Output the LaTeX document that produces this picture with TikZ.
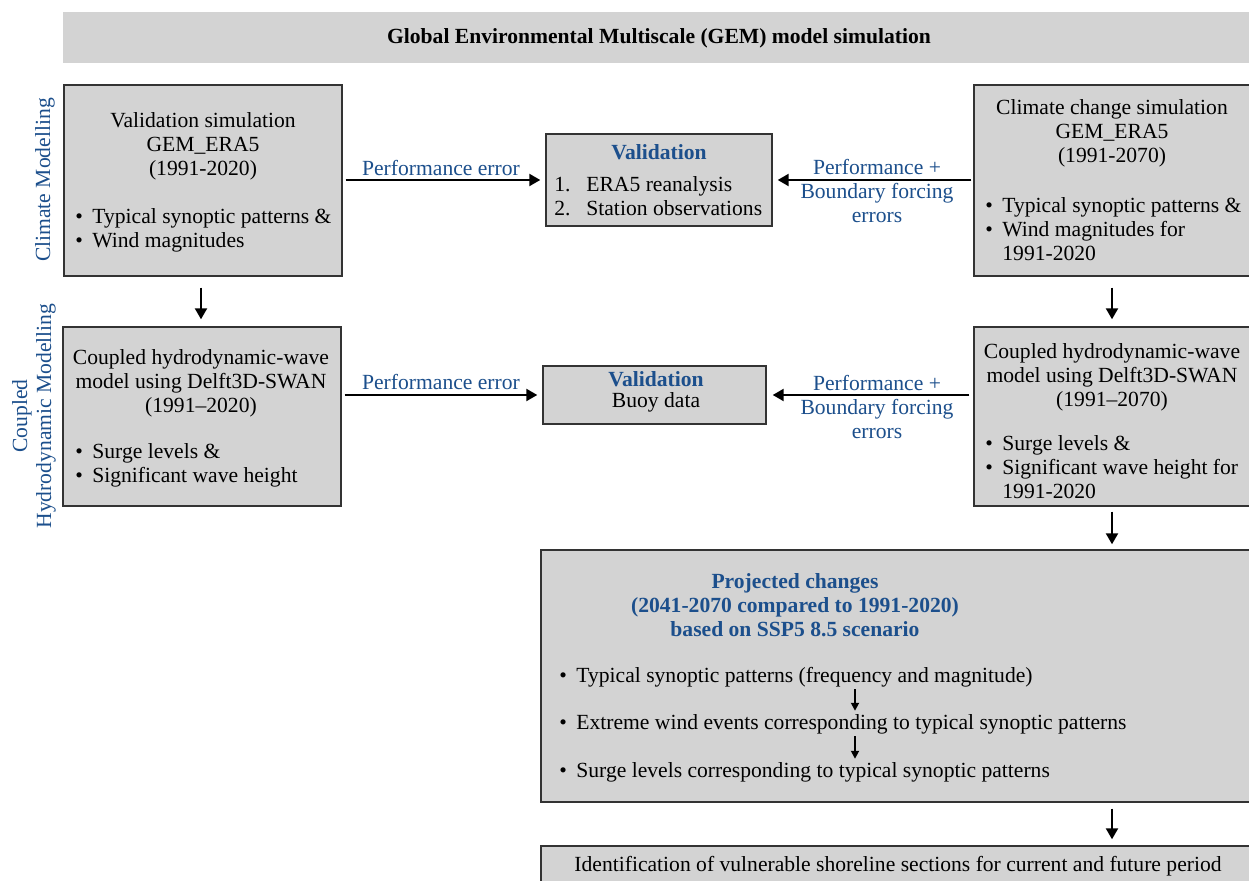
\documentclass[tikz,border=0pt]{standalone}
\usepackage{fontspec}
\setmainfont{Liberation Serif}
\usetikzlibrary{arrows.meta}
\definecolor{boxgray}{RGB}{211,211,211}
\definecolor{lblue}{RGB}{28,79,140}
\newcommand{\bul}{\makebox[8.5pt][l]{\textbullet}}
\newcommand{\numi}[1]{\makebox[16pt][l]{#1}}
\begin{document}
\begin{tikzpicture}[x=0.5pt,y=-0.5pt, font=\fontsize{10.8}{12}\selectfont,
  box/.style={draw=black!80, fill=boxgray, line width=0.7pt, inner sep=0pt},
  banner/.style={fill=boxgray, inner sep=0pt},
  arr/.style={-{Triangle[length=5.5pt,width=6pt]}, line width=1.1pt},
  sarr/.style={-{Triangle[length=4pt,width=4pt]}, line width=0.9pt},
  lbl/.style={text=lblue, align=center, inner sep=0pt},
  txt/.style={align=center, inner sep=0pt},
  ltxt/.style={align=left, inner sep=0pt, anchor=west}]
\clip (0,0) rectangle (1249,881);
\fill[white] (0,0) rectangle (1249,881);
% boxes
\node[banner, minimum width=594.5pt, minimum height=25.5pt] (T) at (657.5,37.5) {};
\node[box, minimum width=139pt, minimum height=95.5pt] (A) at (203,180.5) {};
\node[box, minimum width=113pt, minimum height=46pt] (V1) at (659,180) {};
\node[box, minimum width=139pt, minimum height=95.5pt] (B) at (1113,180.5) {};
\node[box, minimum width=139pt, minimum height=89.5pt] (C) at (202,416.5) {};
\node[box, minimum width=111.5pt, minimum height=29pt] (V2) at (654.5,395) {};
\node[box, minimum width=139pt, minimum height=89.5pt] (D) at (1113,416.5) {};
\node[box, minimum width=355.5pt, minimum height=126pt] (P) at (896.5,676) {};
\node[box, minimum width=355.5pt, minimum height=27pt] (I) at (896.5,873) {};
% title
\node[txt, font=\fontsize{10.8}{12}\selectfont\bfseries] (Tt) at (659,38) {Global Environmental Multiscale (GEM) model simulation};
% side labels
\node[lbl, rotate=90] (cm) at (45,180) {Climate Modelling};
\node[lbl, rotate=90] (chm) at (34,416) {Coupled\\Hydrodynamic Modelling};
% box A
\node[txt] (Ah) at (203,146) {Validation simulation\\GEM\_ERA5\\(1991-2020)};
\node[ltxt] (Ab) at (75,230) {\bul Typical synoptic patterns \&\\\bul Wind magnitudes};
% box V1
\node[txt, text=lblue, font=\fontsize{10.8}{12}\selectfont\bfseries] (V1h) at (659,152) {Validation};
\node[ltxt] (V1b) at (554,196) {\numi{1.}ERA5 reanalysis\\\numi{2.}Station observations};
% box B
\node[txt] (Bh) at (1112,133) {Climate change simulation\\GEM\_ERA5\\(1991-2070)};
\node[ltxt] (Bb) at (985,229) {\bul Typical synoptic patterns \&\\\bul Wind magnitudes for\\\hspace*{8.5pt}1991-2020};
% box C
\node[txt] (Ch) at (201,383) {Coupled hydrodynamic-wave\\model using Delft3D-SWAN\\(1991--2020)};
\node[ltxt] (Cb) at (75,465) {\bul Surge levels \&\\\bul Significant wave height};
% box V2
\node[txt, text=lblue, font=\fontsize{10.8}{12}\selectfont\bfseries] (V2h) at (656,379) {Validation};
\node[txt] (V2b) at (656,402) {Buoy data};
% box D
\node[txt] (Dh) at (1112,377) {Coupled hydrodynamic-wave\\model using Delft3D-SWAN\\(1991--2070)};
\node[ltxt] (Db) at (985,467) {\bul Surge levels \&\\\bul Significant wave height for\\\hspace*{8.5pt}1991-2020};
% box P
\node[txt, text=lblue, font=\fontsize{10.8}{12}\selectfont\bfseries] (Ph) at (795,605) {Projected changes\\(2041-2070 compared to 1991-2020)\\based on SSP5 8.5 scenario};
\node[ltxt] (p1) at (559,677) {\bul Typical synoptic patterns (frequency and magnitude)};
\node[ltxt] (p2) at (559,724) {\bul Extreme wind events corresponding to typical synoptic patterns};
\node[ltxt] (p3) at (559,772) {\bul Surge levels corresponding to typical synoptic patterns};
\coordinate (ax) at (855,700);
\draw[sarr, shorten <=1pt, shorten >=1.5pt] (p1.south -| ax) -- (p2.north -| ax);
\draw[sarr, shorten <=1pt, shorten >=1.5pt] (p2.south -| ax) -- (p3.north -| ax);
% box I
\node[txt] (It) at (898,866) {Identification of vulnerable shoreline sections for current and future period};
% horizontal arrows
\draw[arr, shorten <=1.5pt, shorten >=2.5pt] (A.east |- V1.west) -- (V1.west);
\draw[arr, shorten <=1pt, shorten >=2.5pt] (B.west |- V1.east) -- (V1.east);
\draw[arr, shorten <=1.5pt, shorten >=2.5pt] (C.east |- V2.west) -- (V2.west);
\draw[arr, shorten <=2pt, shorten >=3pt] (D.west |- V2.east) -- (V2.east);
\node[lbl] (pe1) at (441,168) {Performance error};
\node[lbl] (pb1) at (877,191) {Performance +\\Boundary forcing\\errors};
\node[lbl] (pe2) at (441,382) {Performance error};
\node[lbl] (pb2) at (877,407) {Performance +\\Boundary forcing\\errors};
% vertical arrows
\coordinate (xl) at (201,0);
\coordinate (xr) at (1112,0);
\draw[arr, shorten <=5.5pt, shorten >=3.5pt] (A.south -| xl) -- (C.north -| xl);
\draw[arr, shorten <=5.5pt, shorten >=3.5pt] (B.south -| xr) -- (D.north -| xr);
\draw[arr, shorten <=2.5pt, shorten >=2.5pt] (D.south -| xr) -- (P.north -| xr);
\draw[arr, shorten <=3pt, shorten >=3pt] (P.south -| xr) -- (I.north -| xr);
\end{tikzpicture}
\end{document}
